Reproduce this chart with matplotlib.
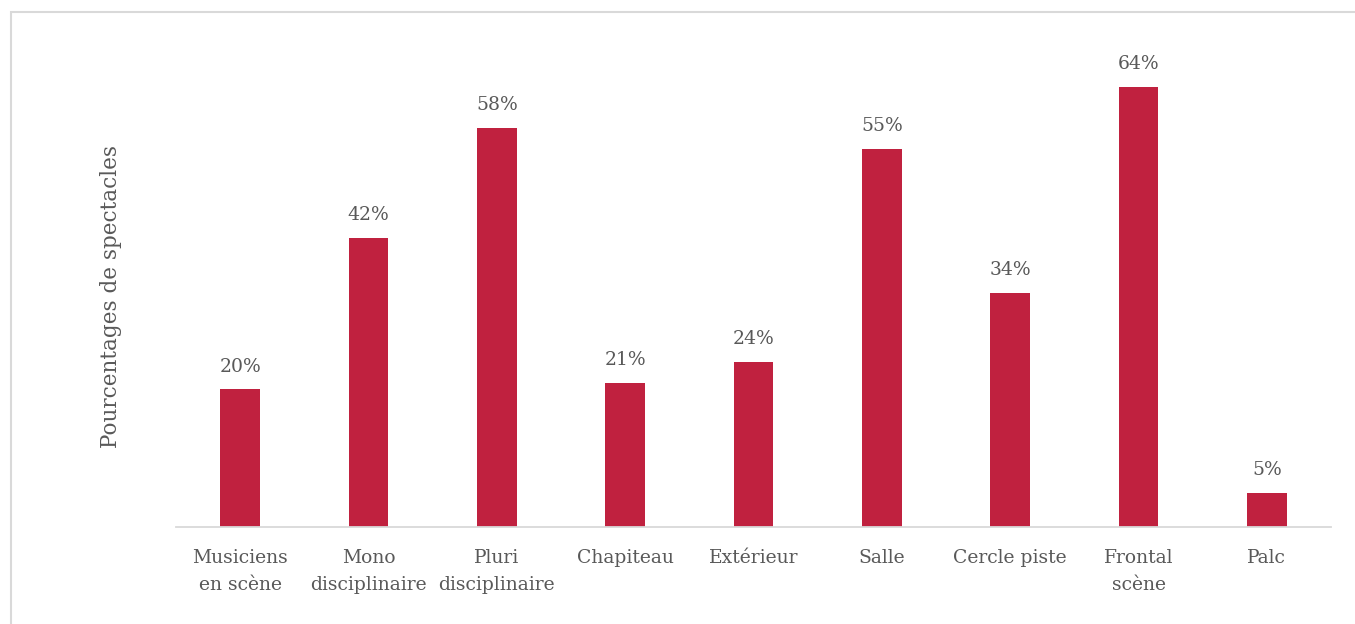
import numpy as np
import matplotlib
matplotlib.use("Agg")
import matplotlib.pyplot as plt
from matplotlib.patches import Rectangle

# Data
categories = ["Musiciens\nen scène", "Mono\ndisciplinaire", "Pluri\ndisciplinaire",
              "Chapiteau", "Extérieur", "Salle", "Cercle piste",
              "Frontal\nscène", "Palc"]
values = [20, 42, 58, 21, 24, 55, 34, 64, 5]

bar_color = "#C0213F"
text_color = "#595959"
line_color = "#D9D9D9"

plt.rcParams["font.family"] = ["DejaVu Serif"]

fig = plt.figure(figsize=(13.55, 6.24), dpi=100)
ax = fig.add_axes([0.1299, 0.1554, 0.8524, 0.7718])

x = np.arange(len(categories))
bars = ax.bar(x, values, width=0.31, color=bar_color)

for xi, v in zip(x, values):
    ax.annotate(f"{v}%", (xi, v), xytext=(0, 10), textcoords="offset points",
                ha="center", va="bottom", fontsize=13.5, color=text_color)

ax.set_xlim(-0.5, len(categories) - 0.5)
ax.set_ylim(0, 70)
ax.set_xticks(x)
ax.set_xticklabels(categories, fontsize=13.5, color=text_color, linespacing=1.6)
ax.tick_params(axis="x", length=0, pad=16)
ax.set_yticks([])

for side in ["top", "right", "left"]:
    ax.spines[side].set_visible(False)
ax.spines["bottom"].set_color(line_color)
ax.spines["bottom"].set_linewidth(1.3)

fig.text(111 / 1355, 1 - 297 / 624, "Pourcentages de spectacles", rotation=90,
         ha="center", va="center", fontsize=15.5, color=text_color)

# light frame around the chart area
fig.patches.append(Rectangle((11 / 1355, -0.1), 1.2, 1.1 - 12 / 624,
                             transform=fig.transFigure, fill=False,
                             edgecolor=line_color, linewidth=1.5))

fig.savefig("out.png", dpi=100)
